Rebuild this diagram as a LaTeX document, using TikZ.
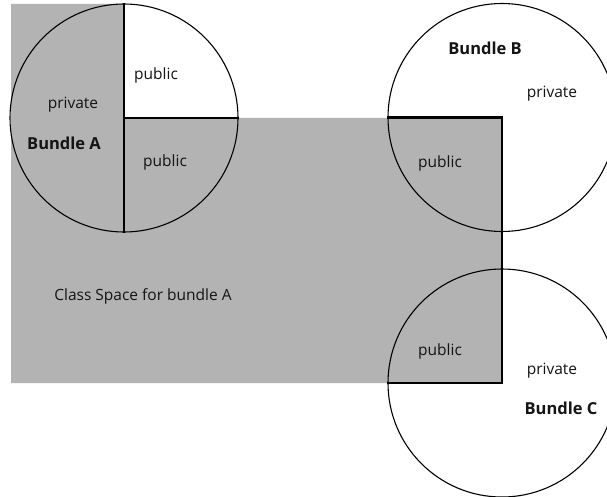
\documentclass[tikz,border=0pt]{standalone}
\usepackage{fontspec}
\setmainfont{Open Sans}
\definecolor{spacegray}{RGB}{179,179,179}
\definecolor{inkc}{RGB}{20,20,20}
\begin{document}
\begin{tikzpicture}[x=1pt,y=-1pt,
  bundlecircle/.style={circle,draw=black,line width=1.1pt,minimum size=228pt,inner sep=0pt},
  quadline/.style={draw=black,line width=2.3pt},
  lbl/.style={font=\fontsize{15.5}{17}\selectfont,text=inkc,inner sep=0pt},
  blbl/.style={font=\fontsize{16.5}{18}\bfseries\selectfont,text=inkc,inner sep=0pt}]
\useasboundingbox (0,0) rectangle (607,497);
\clip (0,0) rectangle (607,497);
\fill[white] (0,0) rectangle (607,497);
% class space
\fill[spacegray] (11,4) -- (124,4) -- (124,118) -- (502,118) -- (502,383) -- (11,383) -- cycle;
% bundles
\node[bundlecircle] (A) at (124,118) {};
\node[bundlecircle] (B) at (502,117.5) {};
\node[bundlecircle] (C) at (502,383) {};
% quadrant borders
\draw[quadline] (A.north) -- (A.south);
\draw[quadline] (A.center) -- (A.east);
\draw[quadline] (B.west) -- (B.center) -- (C.center) -- (C.west);
% labels
\node[lbl] (apub1) at (156,75) {public};
\node[lbl] (apriv) at (73,105) {private};
\node[blbl] (aname) at (64,143) {Bundle A};
\node[lbl] (apub2) at (165,162) {public};
\node[blbl] (bname) at (485,48) {Bundle B};
\node[lbl] (bpriv) at (552,94) {private};
\node[lbl] (bpub) at (440,163) {public};
\node[lbl] (space) at (143,296) {Class Space for bundle A};
\node[lbl] (cpub) at (440,351) {public};
\node[lbl] (cpriv) at (552,371) {private};
\node[blbl] (cname) at (561,408) {Bundle C};
\end{tikzpicture}
\end{document}
